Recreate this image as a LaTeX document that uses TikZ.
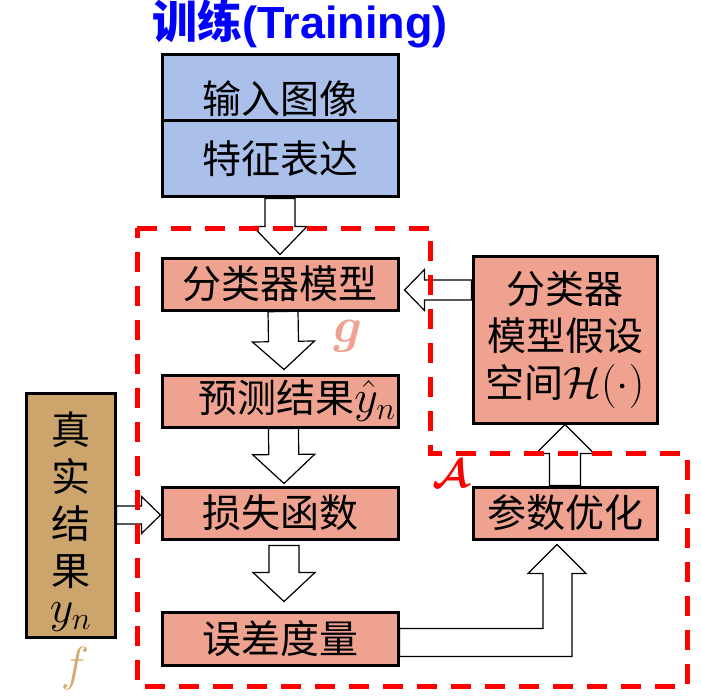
\RequirePackage{fix-cm}
\documentclass[tikz,border=0pt]{standalone}
\usepackage{amsmath,bm}
\usepackage{fontspec}
\setmainfont{Liberation Sans}
\newfontfamily\cjk{Noto Sans CJK SC}
\usetikzlibrary{positioning, calc}
\definecolor{BoxSalmon} {HTML}{F0A291}
\definecolor{BoxBlue}   {HTML}{AABFEA}
\definecolor{BoxTan}    {HTML}{CBA56B}
\definecolor{TitleBlue} {HTML}{0000FF}
\definecolor{DashRed}   {HTML}{FF0000}
\definecolor{LblPink}   {HTML}{F0A291}
\definecolor{LblTan}    {HTML}{D4AA72}

\tikzset{
  box/.style={draw=black, line width=3pt, fill=BoxSalmon, inner sep=0pt,
              font=\cjk\fontsize{39}{47}\selectfont},
  hollow/.style={draw=black, line width=1.2pt, fill=white, line join=miter},
  region/.style={draw=DashRed, line width=5pt, dash pattern=on 20pt off 14pt},
}
\newcommand{\bigmath}[2][46]{{\fontsize{#1}{47}\selectfont$#2$}}
% block arrow: start, end, half shaft, half head, head length
\newcommand{\hollowarrow}[5]{%
  \coordinate (ha) at #1; \coordinate (hb) at #2;
  \coordinate (hh) at ($(hb)!#5!(ha)$);
  \draw[hollow] ($(ha)!#3!90:(hb)$) -- ($(hh)!#3!90:(hb)$) -- ($(hh)!#4!90:(hb)$)
    -- (hb) -- ($(hh)!#4!-90:(hb)$) -- ($(hh)!#3!-90:(hb)$) -- ($(ha)!#3!-90:(hb)$) -- cycle;}

\begin{document}
\begin{tikzpicture}[x=1pt, y=-1pt]
  \useasboundingbox (0,0) rectangle (702,698);

  % title
  \node[text=TitleBlue, font=\fontsize{45}{50}\selectfont\bfseries] (title) at (300,24)
    {{\cjk 训练}(Training)};

  % input block
  \node[box, fill=BoxBlue, minimum width=236pt, minimum height=66pt,
        text height=54pt, text depth=2pt] (inp) at (280,88) {输入图像};
  \node[box, fill=BoxBlue, minimum width=236pt, minimum height=76pt] (feat) at (280,159) {特征表达};

  % left column
  \node[box, minimum width=236pt, minimum height=52pt] (cls) at (280,284) {分类器模型};
  \node[box, minimum width=236pt, minimum height=52pt] (pred) at (280,401)
    {\hspace*{34pt}预测结果\bigmath{\hat{y}_n}};
  \node[box, minimum width=236pt, minimum height=52pt] (loss) at (280,513) {损失函数};
  \node[box, minimum width=236pt, minimum height=53pt] (err) at (280,638.5) {误差度量};

  % ground truth
  \node[box, fill=BoxTan, minimum width=89pt, minimum height=244pt, align=center] (truth)
    at (70.5,515) {\rule{0pt}{46pt}真\\实\\结\\果\\[-10pt]\bigmath{y_n}};

  % right column
  \node[box, minimum width=184pt, minimum height=167pt, align=center] (hyp) at (565,339.5)
    {分类器\\模型假设\\空间\bigmath[44]{\mathcal{H}(\cdot)}};
  \node[box, minimum width=184pt, minimum height=52pt] (opt) at (565,513) {参数优化};

  % labels
  \node[text=LblPink, font=\fontsize{50}{54}\selectfont] (glab) at (348,336) {$\bm{g}$};
  \node[text=DashRed, font=\fontsize{40}{48}\selectfont] (alab) at (451,474) {$\bm{\mathcal{A}}$};
  \node[text=LblTan, font=\fontsize{48}{54}\selectfont] (flab) at (75,668) {$f$};

  % arrows
  \hollowarrow{(feat.south)}{($(cls.north)+(0,-2)$)}{15pt}{27pt}{28pt}
  \hollowarrow{($(cls.south)+(3,0)$)}{($(pred.north)+(4,-4)$)}{15pt}{31pt}{28pt}
  \hollowarrow{($(pred.south)+(3.5,0)$)}{($(loss.north)+(4,-2)$)}{15pt}{31pt}{29pt}
  \hollowarrow{($(loss.south)+(4,5)$)}{($(err.north)+(4,-9)$)}{15pt}{31pt}{29pt}
  \hollowarrow{(truth.east)}{(truth.east -| loss.west)}{9pt}{18.5pt}{19pt}
  \hollowarrow{($(hyp.west |- cls.east)+(0,6)$)}{($(cls.east)+(5,6)$)}{10pt}{20.5pt}{20pt}
  \hollowarrow{(opt.north)}{(hyp.south)}{15.5pt}{29pt}{29pt}
  \coordinate (bend) at ($(opt.south)+(-8,4)$);
  \draw[hollow] ($(err.east)+(0,-10)$) -| ($(bend)+(-14,29)$) -- ($(bend)+(-29,29)$)
    -- (bend) -- ($(bend)+(29,29)$) -- ($(bend)+(15,29)$) |- ($(err.east)+(0,18)$) -- cycle;

  % dashed regions g and A
  \draw[region] (137,228) -- (430,228) -- (430,453) -- (687,453) -- (687,686) -- (137,686) -- cycle;
\end{tikzpicture}
\end{document}
